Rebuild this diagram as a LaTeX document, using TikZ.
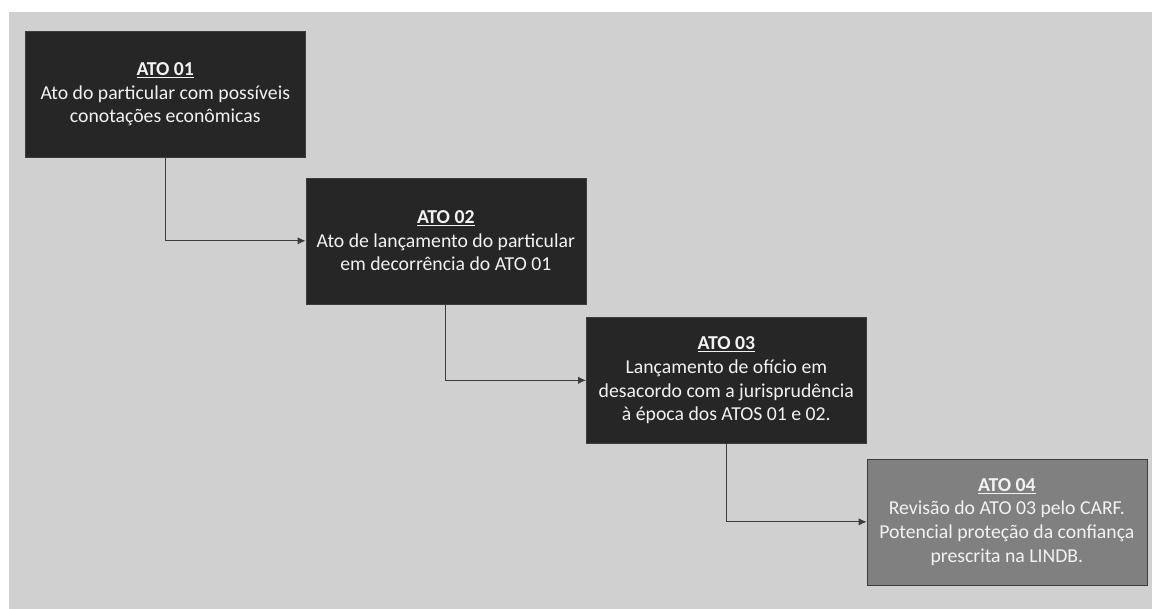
\documentclass[tikz,border=0pt]{standalone}
\usepackage{fontspec}
\setmainfont{Carlito}
\usepackage{tikz}
\usetikzlibrary{arrows.meta, positioning}
\definecolor{canvas}{HTML}{D0D0D0}
\definecolor{boxdark}{HTML}{262626}
\definecolor{boxgray}{HTML}{808080}
\definecolor{boxline}{HTML}{3C3C3C}
\definecolor{boxtext}{HTML}{F2F2F2}
\newcommand{\atotitle}[1]{\underline{\textbf{#1}}}

\begin{document}
\begin{tikzpicture}[
      x=0.75pt, y=-0.75pt,
      ato/.style={draw=boxline, fill=boxdark, text=boxtext, align=center, inner sep=0pt,
        minimum width=210pt, minimum height=94.5pt, font=\fontsize{14.8}{17.8}\selectfont},
      atolast/.style={ato, fill=boxgray},
      arrow/.style={-{Latex[length=6pt,width=5.5pt]}, draw=boxline, line width=0.75pt}
    ]
    \useasboundingbox (0,0) rectangle (1152,609);
    \fill[canvas] (9,12) rectangle (1152,609);
    \node[ato, anchor=north west] (ato1) at (25,31) {\atotitle{ATO 01}\\Ato do particular com possíveis\\conotações econômicas};
    \node[ato, below right=15pt and 0pt of ato1] (ato2) {\atotitle{ATO 02}\\Ato de lançamento do particular\\em decorrência do ATO 01};
    \node[ato, below right=9.75pt and 0pt of ato2] (ato3) {\atotitle{ATO 03}\\Lançamento de ofício em\\desacordo com a jurisprudência\\à época dos ATOS 01 e 02.};
    \node[atolast, below right=11.25pt and 0pt of ato3] (ato4) {\atotitle{ATO 04}\\Revisão do ATO 03 pelo CARF.\\Potencial proteção da confiança\\prescrita na LINDB.};
    \draw[arrow] (ato1.south) |- (ato2.west);
    \draw[arrow] (ato2.south) |- (ato3.west);
    \draw[arrow] (ato3.south) |- (ato4.west);
  \end{tikzpicture}
\end{document}
